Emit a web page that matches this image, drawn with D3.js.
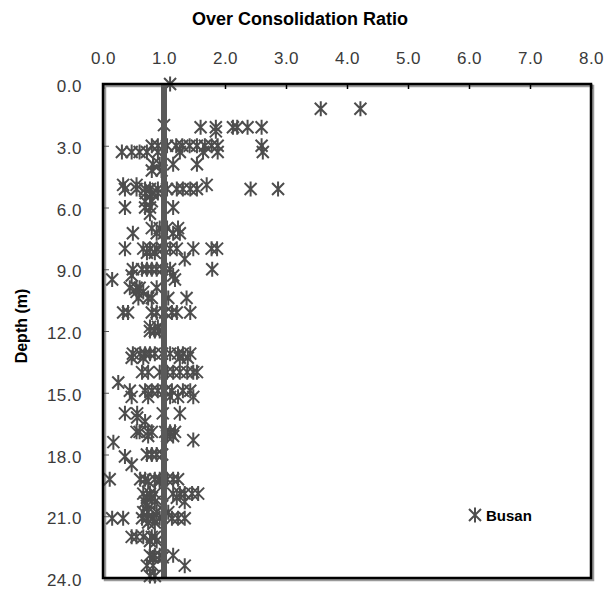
<!DOCTYPE html>
<html>
<head>
<meta charset="utf-8">
<script src="https://cdn.jsdelivr.net/npm/d3@7"></script>
<style>
  html, body { margin: 0; padding: 0; background: #fff; }
  svg { display: block; font-family: "Liberation Sans", Arial, sans-serif; }
</style>
</head>
<body>
<svg id="chart" width="611" height="589"></svg>
<script>
// ---- data ----
const xTicks = [0, 1, 2, 3, 4, 5, 6, 7, 8];
const yTicks = [0, 3, 6, 9, 12, 15, 18, 21, 24];
const seriesName = "Busan";
const referenceOCR = 1.0;
const rowDepths = [0.0, 1.2, 2.0, 2.1, 2.3, 3.0, 3.3, 3.9, 4.2, 4.9, 5.1, 5.3, 5.7, 6.0, 6.3,
  7.0, 7.25, 8.0, 8.2, 8.5, 9.0, 9.3, 9.5, 9.9, 10.1, 10.4, 11.1, 11.8, 12.0,
  13.1, 13.3, 14.0, 14.5, 14.9, 15.2, 16.0, 16.2, 16.4, 16.9, 17.1, 17.3, 17.4,
  18.0, 18.1, 18.5, 19.2, 19.3, 19.9, 20.1, 20.3, 20.5, 20.8, 21.1, 21.3,
  22.0, 22.2, 22.9, 23.0, 23.4, 23.9];
const rowOCR = [
  [1.1],
  [3.57, 4.22],
  [1.0],
  [1.6, 1.85, 2.13, 2.2, 2.37, 2.6],
  [1.85],
  [0.8, 0.9, 1.05, 1.2, 1.3, 1.42, 1.54, 1.67, 1.78, 1.88, 2.6],
  [0.31, 0.47, 0.6, 0.72, 0.9, 1.26, 1.64, 1.88, 2.62],
  [0.82, 0.93, 1.15, 1.54],
  [0.8, 0.96],
  [0.33, 0.55, 1.7],
  [0.36, 0.55, 0.69, 0.77, 0.9, 1.05, 1.21, 1.31, 1.43, 1.54, 2.42, 2.87],
  [0.7, 0.8, 0.9],
  [0.69, 0.8],
  [0.36, 0.69, 0.77, 1.15],
  [0.77],
  [0.8, 0.93, 1.05, 1.23],
  [0.49, 0.88, 1.0, 1.15, 1.26],
  [0.36, 0.66, 0.77, 0.88, 0.98, 1.1, 1.21, 1.48, 1.78, 1.87],
  [0.72, 0.85],
  [1.34],
  [0.49, 0.64, 0.72, 0.8, 0.88, 0.97, 1.1, 1.79],
  [0.47, 1.15],
  [0.15, 1.18],
  [0.44, 0.55, 0.6, 0.88],
  [0.55, 0.66],
  [0.58, 0.74, 0.8, 1.07, 1.37],
  [0.33, 0.41, 0.8, 0.88, 1.02, 1.13, 1.21, 1.43],
  [0.77, 0.9],
  [0.77, 0.85, 0.93],
  [0.49, 0.61, 0.69, 0.77, 0.85, 0.97, 1.1, 1.23, 1.31, 1.43],
  [0.47, 0.66, 1.26, 1.39],
  [0.64, 0.74, 0.93, 1.05, 1.15, 1.26, 1.38, 1.48, 1.54],
  [0.25],
  [0.44, 0.69, 0.8, 0.9, 1.02, 1.13, 1.31, 1.43],
  [0.47, 0.74, 1.1, 1.23, 1.48],
  [0.36, 0.56, 0.98, 1.26],
  [0.56],
  [0.69],
  [0.55, 0.6, 0.74, 0.8, 1.02, 1.1, 1.18],
  [0.74, 1.05, 1.15],
  [1.48],
  [0.17],
  [0.72, 0.8, 0.88, 0.97],
  [0.36],
  [0.47],
  [0.11, 0.61, 0.69, 0.85, 0.93, 1.05, 1.15, 1.23],
  [0.74, 0.93],
  [0.66, 0.77, 0.85, 1.15, 1.26, 1.34, 1.46, 1.56],
  [0.72, 0.8, 1.21],
  [0.69, 0.85, 1.34],
  [0.72, 0.97],
  [0.66, 0.74, 0.88, 1.07],
  [0.15, 0.33, 0.64, 0.72, 0.82, 0.93, 1.13, 1.23, 1.34],
  [0.74, 0.85],
  [0.47, 0.55, 0.66, 0.8, 0.85],
  [0.77, 0.88],
  [0.77, 0.85, 0.93, 1.15],
  [0.82, 0.98],
  [0.72, 0.82, 1.34],
  [0.77, 0.85]
];

// ---- build points ----
const points = [];
rowDepths.forEach((d, i) => rowOCR[i].forEach(v => points.push({ depth: d, ocr: v })));

// ---- layout ----
const L = 103, T = 84, R = 591, B = 578;
const svg = d3.select("#chart");
const x = d3.scaleLinear().domain([0, 8]).range([L, R]);
const y = d3.scaleLinear().domain([0, 24]).range([T, B]);

const markerColor = "#4d4d4d";
const starPath = "M-6,-6L6,6M-6,6L6,-6M0,-7.5L0,7.5";
const tickFont = "'Liberation Sans', Arial, sans-serif";

// title
svg.append("text")
  .attr("x", 300).attr("y", 25)
  .attr("text-anchor", "middle")
  .attr("font-size", 18).attr("font-weight", "bold")
  .attr("fill", "#000")
  .text("Over Consolidation Ratio");

// y label
svg.append("text")
  .attr("transform", "translate(27,326) rotate(-90)")
  .attr("text-anchor", "middle")
  .attr("font-size", 16).attr("font-weight", "bold")
  .attr("fill", "#000")
  .text("Depth (m)");

// shadow of plot box
svg.append("rect")
  .attr("x", L + 2).attr("y", T + 2)
  .attr("width", R - L).attr("height", B - T)
  .attr("fill", "none").attr("stroke", "#9a9a9a").attr("stroke-width", 2.5);

// axes
const xAxis = d3.axisTop(x).tickValues(xTicks).tickFormat(d3.format(".1f"))
  .tickSizeInner(-5).tickSizeOuter(0).tickPadding(20);
const gx = svg.append("g").attr("transform", `translate(0,${T})`).call(xAxis);
gx.select(".domain").remove();
gx.selectAll(".tick line").attr("stroke", "#000").attr("stroke-width", 1.5);
gx.selectAll(".tick text").attr("font-size", 17).attr("fill", "#3a3a3a")
  .attr("letter-spacing", "0.5px")
  .attr("font-family", tickFont);

const yAxis = d3.axisLeft(y).tickValues(yTicks).tickFormat(d3.format(".1f"))
  .tickSizeInner(-6).tickSizeOuter(0).tickPadding(21);
const gy = svg.append("g").attr("transform", `translate(${L},0)`).call(yAxis);
gy.select(".domain").remove();
gy.selectAll(".tick line").attr("stroke", "#555").attr("stroke-width", 1);
gy.selectAll(".tick text").attr("font-size", 17).attr("fill", "#3a3a3a")
  .attr("letter-spacing", "0.5px")
  .attr("dy", "0.45em")
  .attr("font-family", tickFont);

// markers
svg.append("g").selectAll("path.pt")
  .data(points).join("path")
  .attr("class", "pt")
  .attr("transform", d => `translate(${x(d.ocr)},${y(d.depth)})`)
  .attr("d", starPath)
  .attr("fill", "none").attr("stroke", markerColor).attr("stroke-width", 2);

// reference line OCR = 1
svg.append("line")
  .attr("x1", x(referenceOCR)).attr("x2", x(referenceOCR))
  .attr("y1", y(0)).attr("y2", y(24))
  .attr("stroke", "#5a5a5a").attr("stroke-width", 6);

// plot box
svg.append("rect")
  .attr("x", L).attr("y", T)
  .attr("width", R - L).attr("height", B - T)
  .attr("fill", "none").attr("stroke", "#000").attr("stroke-width", 2.5);

// legend
svg.append("path")
  .attr("transform", "translate(475,515)")
  .attr("d", starPath)
  .attr("fill", "none").attr("stroke", markerColor).attr("stroke-width", 2);
svg.append("text")
  .attr("x", 486).attr("y", 521)
  .attr("font-size", 15).attr("font-weight", "bold").attr("fill", "#000")
  .text(seriesName);
</script>
</body>
</html>
